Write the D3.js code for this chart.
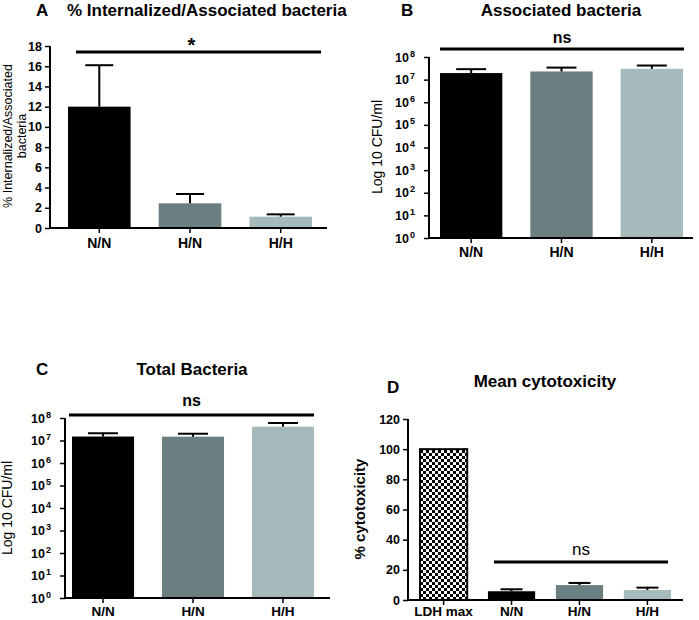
<!DOCTYPE html>
<html><head><meta charset="utf-8">
<script src="https://cdn.jsdelivr.net/npm/d3@7"></script>
<style>
html,body{margin:0;padding:0;background:#fff;}
svg{display:block;font-family:Arial,"Liberation Sans",sans-serif;}
</style></head>
<body>
<script>
// ---- data ----
const groups = ["N/N", "H/N", "H/H"];
const groupColors = ["#000000", "#6b7f80", "#a7babb"];

const internalizedMean = [12.0, 2.44, 1.12];
const internalizedSem  = [4.1, 0.92, 0.23];
const internalizedTicks = [0, 2, 4, 6, 8, 10, 12, 14, 16, 18];

const associatedMean = [1.95e7, 2.3e7, 3.0e7];
const associatedSem  = [0.95e7, 1.1e7, 1.2e7];

const totalMean = [1.5e7, 1.48e7, 4.1e7];
const totalSem  = [0.6e7, 0.52e7, 1.9e7];

const logTicks = [1, 10, 100, 1e3, 1e4, 1e5, 1e6, 1e7, 1e8];

const cytoCategories = ["LDH max", "N/N", "H/N", "H/H"];
const cytoMean = [100, 5.8, 9.9, 6.6];
const cytoSem  = [0, 1.3, 1.4, 1.6];
const cytoTicks = [0, 20, 40, 60, 80, 100, 120];

// ---- drawing ----
const W = 699, H = 620;
const svg = d3.select("body").append("svg").attr("width", W).attr("height", H);

const defs = svg.append("defs");
const pat = defs.append("pattern").attr("id", "checker").attr("patternUnits", "userSpaceOnUse")
  .attr("width", 6).attr("height", 6);
pat.append("rect").attr("width", 6).attr("height", 6).attr("fill", "#fff");
pat.append("rect").attr("width", 3).attr("height", 3).attr("fill", "#000");
pat.append("rect").attr("x", 3).attr("y", 3).attr("width", 3).attr("height", 3).attr("fill", "#000");

function panel(cfg) {
  const g = svg.append("g");
  const x = d3.scaleBand().domain(cfg.cats).range([cfg.barStart, cfg.barEnd]).paddingInner(cfg.padInner).paddingOuter(0);
  const y = cfg.log
    ? d3.scaleLog().domain([1, 1e8]).range([cfg.yBottom, cfg.yTop])
    : d3.scaleLinear().domain(cfg.domain).range([cfg.yBottom, cfg.yTop]);
  const base = cfg.log ? 1 : 0;

  // bars
  cfg.cats.forEach((c, i) => {
    const v = cfg.mean[i];
    const isPat = cfg.patternIdx === i;
    g.append("rect")
      .attr("x", x(c)).attr("width", x.bandwidth())
      .attr("y", y(v)).attr("height", y(base) - y(v))
      .attr("fill", isPat ? "url(#checker)" : cfg.colors[i])
      .attr("stroke", isPat ? "#000" : "none")
      .attr("stroke-width", isPat ? 2 : 0);
    if (cfg.sem[i] > 0) {
      const cx = x(c) + x.bandwidth() / 2;
      const top = y(v + cfg.sem[i]);
      g.append("line").attr("x1", cx).attr("x2", cx).attr("y1", y(v)).attr("y2", top)
        .attr("stroke", "#000").attr("stroke-width", 2);
      g.append("line").attr("x1", cx - cfg.cap / 2).attr("x2", cx + cfg.cap / 2).attr("y1", top).attr("y2", top)
        .attr("stroke", "#000").attr("stroke-width", 2);
    }
  });

  // y axis
  const ya = d3.axisLeft(y).tickValues(cfg.ticks).tickSizeOuter(0).tickSize(5).tickPadding(3);
  if (cfg.log) ya.tickFormat(() => ""); else ya.tickFormat(d3.format("d"));
  const yg = g.append("g").attr("transform", `translate(${cfg.axisX},0)`).call(ya);
  yg.select(".domain").attr("stroke-width", 2).attr("d", `M0,${cfg.yTop}V${cfg.yBottom + 1}`);
  yg.selectAll(".tick line").attr("stroke-width", 1.5);
  yg.selectAll(".tick text").attr("font-size", 12.5).attr("font-weight", "bold")
    .attr("font-family", "Arial, 'Liberation Sans', sans-serif").attr("fill", "#000");
  if (cfg.log) {
    yg.selectAll(".tick").each(function (d) {
      const t = d3.select(this).select("text");
      t.text(null).attr("dy", null).attr("y", 4).attr("x", -14).attr("text-anchor", "end");
      t.append("tspan").text("10");
      t.append("tspan").text(String(Math.round(Math.log10(d)))).attr("font-size", 9).attr("dy", -5).attr("dx", 1);
    });
  }

  // x axis
  const xa = d3.axisBottom(x).tickSizeOuter(0).tickSize(5).tickPadding(5);
  const xg = g.append("g").attr("transform", `translate(0,${cfg.yBottom})`).call(xa);
  xg.select(".domain").attr("stroke-width", 2).attr("d", `M${cfg.axisX - 1},0H${cfg.axisEnd}`);
  xg.selectAll(".tick line").attr("stroke-width", 1.5);
  xg.selectAll(".tick text").attr("font-size", cfg.xLabelSize || 14).attr("font-weight", "bold")
    .attr("font-family", "Arial, 'Liberation Sans', sans-serif").attr("fill", "#000")
    .attr("dy", null).attr("y", cfg.xLabelDy);

  // significance line
  g.append("line").attr("x1", cfg.sig.x1).attr("x2", cfg.sig.x2).attr("y1", cfg.sig.y).attr("y2", cfg.sig.y)
    .attr("stroke", "#000").attr("stroke-width", 3);
  g.append("text").attr("x", (cfg.sig.x1 + cfg.sig.x2) / 2 + (cfg.sig.dx || 0)).attr("y", cfg.sig.ty)
    .attr("text-anchor", "middle").attr("font-size", cfg.sig.size).attr("font-weight", cfg.sig.weight)
    .text(cfg.sig.label);

  // titles
  g.append("text").attr("x", cfg.letter.x).attr("y", cfg.letter.y).attr("font-size", 17).attr("font-weight", "bold")
    .text(cfg.letter.t);
  g.append("text").attr("x", cfg.title.x).attr("y", cfg.title.y).attr("font-size", 17).attr("font-weight", "bold")
    .attr("text-anchor", cfg.title.anchor || "middle").text(cfg.title.t);

  // y label
  cfg.ylabel.lines.forEach((ln, i) => {
    g.append("text")
      .attr("transform", `translate(${cfg.ylabel.x + i * cfg.ylabel.lh},${cfg.ylabel.cy}) rotate(-90)`)
      .attr("text-anchor", "middle").attr("font-size", cfg.ylabel.size)
      .attr("font-weight", cfg.ylabel.weight).attr("fill", "#000").text(ln);
  });
}

// Panel A
panel({
  cats: groups, colors: groupColors, mean: internalizedMean, sem: internalizedSem,
  log: false, domain: [0, 18], ticks: internalizedTicks,
  barStart: 68, barEnd: 312, padInner: 0.31, cap: 28,
  yTop: 46, yBottom: 228, axisX: 50, axisEnd: 327, xLabelDy: 20,
  sig: { x1: 76, x2: 321, y: 52, ty: 52, label: "*", size: 20, weight: "bold", dx: -7 },
  letter: { x: 36, y: 16, t: "A" },
  title: { x: 67, y: 16, t: "% Internalized/Associated bacteria", anchor: "start" },
  ylabel: { lines: ["% Internalized/Associated", "bacteria"], x: 12, lh: 14, cy: 136, size: 12.5, weight: "normal" }
});

// Panel B
panel({
  cats: groups, colors: groupColors, mean: associatedMean, sem: associatedSem,
  log: true, ticks: logTicks,
  barStart: 440, barEnd: 683, padInner: 0.31, cap: 30,
  yTop: 57, yBottom: 238, axisX: 429, axisEnd: 693, xLabelDy: 19,
  sig: { x1: 440, x2: 684, y: 49, ty: 43, label: "ns", size: 16, weight: "bold" },
  letter: { x: 401, y: 16, t: "B" },
  title: { x: 561, y: 16, t: "Associated bacteria" },
  ylabel: { lines: ["Log 10 CFU/ml"], x: 382, lh: 0, cy: 147, size: 14, weight: "normal" }
});

// Panel C
panel({
  cats: groups, colors: groupColors, mean: totalMean, sem: totalSem,
  log: true, ticks: logTicks,
  barStart: 72, barEnd: 314, padInner: 0.31, cap: 30,
  yTop: 418, yBottom: 598, axisX: 65, axisEnd: 330, xLabelDy: 18, xLabelSize: 13.5,
  sig: { x1: 69, x2: 314, y: 415, ty: 406, label: "ns", size: 16, weight: "bold" },
  letter: { x: 36, y: 375, t: "C" },
  title: { x: 192, y: 375, t: "Total Bacteria" },
  ylabel: { lines: ["Log 10 CFU/ml"], x: 12, lh: 0, cy: 508, size: 14, weight: "normal" }
});

// Panel D
panel({
  cats: cytoCategories, colors: ["#fff"].concat(groupColors), mean: cytoMean, sem: cytoSem,
  patternIdx: 0,
  log: false, domain: [0, 120], ticks: cytoTicks,
  barStart: 420, barEnd: 671, padInner: 0.305, cap: 22,
  yTop: 419, yBottom: 600, axisX: 408, axisEnd: 683, xLabelDy: 16, xLabelSize: 13.5,
  sig: { x1: 494, x2: 668, y: 562, ty: 555, label: "ns", size: 17, weight: "normal" },
  letter: { x: 387, y: 393, t: "D" },
  title: { x: 545, y: 387, t: "Mean cytotoxicity" },
  ylabel: { lines: ["% cytotoxicity"], x: 365, lh: 0, cy: 509, size: 15, weight: "bold" }
});
</script>
</body></html>
